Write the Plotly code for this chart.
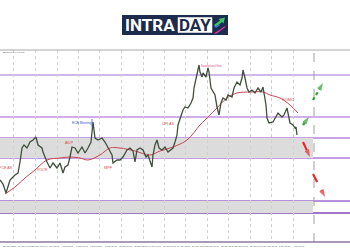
import plotly.graph_objects as go

W, H = 350, 250
TOP, BOT = 50, 242  # plot area pixel rows

# ---------------- data ----------------
bar_x = [0, 3, 6, 10, 15, 18, 20, 22, 24, 27, 30, 33, 36, 38, 42, 43, 47, 50, 53, 57, 60, 63, 65, 68,
         70, 72, 75, 78, 82, 85, 88, 91, 93, 95, 98, 102, 105, 108, 112, 113, 117, 120, 123, 127,
         130, 133, 135, 137, 140, 143, 146, 148, 152, 153, 155, 157, 159, 162, 165, 168, 171, 173,
         175, 177, 178, 180, 183, 185, 188, 191, 193, 194, 196, 197, 199, 200, 202, 203, 206, 208,
         209, 211, 213, 215, 217, 219, 221, 223, 226, 228, 232, 234, 237, 240, 242, 243, 245, 247,
         249, 252, 255, 258, 261, 263, 264, 266, 267, 269, 273, 276, 278, 282, 284, 287, 288, 290,
         293, 295, 296, 297]
close = [1.1640, 1.1632, 1.1614, 1.1640, 1.1650, 1.1654, 1.1676, 1.1704, 1.1710, 1.1704, 1.1716,
         1.1720, 1.1726, 1.1710, 1.1704, 1.1696, 1.1676, 1.1664, 1.1674, 1.1664, 1.1674, 1.1654,
         1.1666, 1.1670, 1.1686, 1.1706, 1.1704, 1.1694, 1.1706, 1.1694, 1.1704, 1.1716, 1.1756,
         1.1724, 1.1720, 1.1724, 1.1716, 1.1706, 1.1690, 1.1674, 1.1680, 1.1680, 1.1686, 1.1700,
         1.1704, 1.1698, 1.1676, 1.1700, 1.1704, 1.1700, 1.1686, 1.1690, 1.1666, 1.1690, 1.1710,
         1.1720, 1.1704, 1.1700, 1.1706, 1.1696, 1.1700, 1.1704, 1.1716, 1.1730, 1.1750, 1.1764,
         1.1780, 1.1786, 1.1784, 1.1794, 1.1804, 1.1824, 1.1844, 1.1856, 1.1870, 1.1856, 1.1846,
         1.1854, 1.1846, 1.1864, 1.1856, 1.1824, 1.1816, 1.1810, 1.1786, 1.1770, 1.1794, 1.1804,
         1.1800, 1.1810, 1.1806, 1.1824, 1.1836, 1.1830, 1.1844, 1.1860, 1.1844, 1.1824, 1.1816,
         1.1820, 1.1814, 1.1824, 1.1816, 1.1826, 1.1814, 1.1790, 1.1764, 1.1754, 1.1756, 1.1766,
         1.1774, 1.1766, 1.1770, 1.1784, 1.1774, 1.1754, 1.1750, 1.1744, 1.1746, 1.1730, 1.1734]

ma_x = [5, 15, 25, 35, 47, 60, 70, 80, 88, 100, 110, 120, 135, 150, 160, 173, 187, 200, 205, 215,
        227, 237, 250, 263, 270, 280, 290, 298]
ma_y = [1.1612, 1.1626, 1.1644, 1.1660, 1.1680, 1.1684, 1.1686, 1.1684, 1.1680, 1.1690, 1.1704,
        1.1704, 1.1698, 1.1690, 1.1698, 1.1706, 1.1720, 1.1750, 1.1760, 1.1780, 1.1804, 1.1814,
        1.1816, 1.1816, 1.1810, 1.1804, 1.1790, 1.1774]

levels = [1.1850, 1.1766, 1.1724, 1.1684, 1.1598, 1.1574]
level_colors = ["#d3b6ec", "#cfaeea", "#c7a3e6", "#c29ce3", "#b792dc", "#9f78c8"]
zones = [(1.1684, 1.1724), (1.1574, 1.1598)]
zone_end = 313

grid_x = [13, 35, 57, 78, 99, 121, 143, 164, 185, 207, 228, 250, 271, 293]
now_x = 314

tick_pos = [1, 15.5, 30, 44.5, 59, 73.5, 88, 102.5, 117, 131.5, 146, 160.5, 175, 189.5, 204,
            218.5, 233, 247.5, 262, 276.5, 291]
tick_labels = ["28 May 2018", "29 May 16:00", "31 May 00:00", "1 Jun 08:00", "4 Jun 16:00",
               "6 Jun 00:00", "7 Jun 08:00", "8 Jun 16:00", "12 Jun 00:00", "13 Jun 08:00",
               "14 Jun 16:00", "18 Jun 00:00", "19 Jun 08:00", "20 Jun 16:00", "22 Jun 00:00",
               "25 Jun 08:00", "26 Jun 16:00", "28 Jun 00:00", "29 Jun 08:00", "2 Jul 16:00",
               "4 Jul 00:00"]

events = ["ECB Meeting", "Switzerland Vote", "CPI AS", "FOMC", "PCE AS", "ADP", "VOLTE", "MPF"]
event_x = [82, 211, 168, 288, 6, 69, 42, 108]
event_y = [1.1754, 1.1868, 1.1752, 1.1802, 1.1664, 1.1716, 1.1660, 1.1664]
event_colors = ["#3a56c8", "#e0508a", "#e04848", "#e04848", "#e04848", "#e04848", "#e04848",
                "#e04848"]
event_sizes = [3.3, 2.8, 3.7, 4.2, 3.6, 3.9, 3.3, 3.8]

arrows = [  # (x0, y0, x1, y1, colour, dash)
    (313, 1.1800, 323, 1.1834, "#2e9e34", "dot"),
    (303, 1.1750, 309, 1.1766, "#2e9e34", "dot"),
    (303, 1.1716, 310, 1.1686, "#e42a2a", "dash"),
    (313, 1.1652, 325, 1.1606, "#e42a2a", "dash"),
]

y_lo, y_hi = 1.1516, 1.1900


def px(xp):
    return xp / W


def py(yp):
    return (BOT - yp) / (BOT - TOP)


fig = go.Figure()

shapes = []
for (a, b) in zones:
    shapes.append(dict(type="rect", x0=0, x1=zone_end, y0=a, y1=b, xref="x", yref="y",
                       fillcolor="#dcdcdc", line_width=0, layer="below"))
for lv, c in zip(levels, level_colors):
    shapes.append(dict(type="line", x0=0, x1=1, xref="paper", y0=lv, y1=lv, yref="y",
                       line=dict(color=c, width=2), layer="below"))
shapes.append(dict(type="line", x0=now_x, x1=now_x, y0=0, y1=1, xref="x", yref="paper",
                   line=dict(color="#a0a0a0", width=1, dash="dash"), layer="below"))
# frame lines
shapes.append(dict(type="line", x0=0, x1=1, y0=1, y1=1, xref="paper", yref="paper",
                   line=dict(color="#a8a8a8", width=1)))
shapes.append(dict(type="line", x0=0, x1=1, y0=0, y1=0, xref="paper", yref="paper",
                   line=dict(color="#8c7aa0", width=1.5)))
# ECB marker bar
shapes.append(dict(type="line", x0=92, x1=92, y0=1.1746, y1=1.1762, xref="x", yref="y",
                   line=dict(color="#3a56c8", width=0.8)))

# logo
shapes.append(dict(type="rect", x0=px(122), x1=px(228), y0=py(35), y1=py(15), xref="paper",
                   yref="paper", fillcolor="#1d2b4c", line_width=0))
shapes.append(dict(type="rect", x0=px(178), x1=px(212), y0=py(32.5), y1=py(17.5), xref="paper",
                   yref="paper", fillcolor="#ffffff", line=dict(color="#ffffff", width=0.5)))


def poly(pts, color):
    d = "M " + " L ".join(f"{px(a):.4f},{py(b):.4f}" for a, b in pts) + " Z"
    return dict(type="path", path=d, xref="paper", yref="paper", fillcolor=color, line_width=0)


shapes.append(poly([(214, 25), (220, 20.5), (218.5, 19), (225, 17.5), (223.5, 23.5),
                    (222, 22), (216, 27)], "#3cc46a"))
shapes.append(poly([(214, 26), (221, 24.5), (216, 28)], "#2f7ae0"))
shapes.append(poly([(214, 33.5), (220, 29), (215.5, 33.5)], "#e2369e"))
shapes.append(poly([(215, 33.5), (224, 26.5), (226, 26.5), (217, 33.5)], "#e2369e"))

fig.add_trace(go.Scatter(x=ma_x, y=ma_y, mode="lines", line=dict(color="#c9474e", width=1),
                         line_shape="spline", hoverinfo="skip"))
fig.add_trace(go.Scatter(x=bar_x, y=close, mode="lines",
                         line=dict(color="#3f4f3c", width=1.3), hoverinfo="skip"))

for (x0, y0, x1, y1, c, dsh) in arrows:
    fig.add_trace(go.Scatter(x=[x0, x1], y=[y0, y1], mode="lines+markers",
                             line=dict(color=c, width=2.2, dash=dsh),
                             marker=dict(symbol="arrow", size=[0, 8], color=c,
                                         angleref="previous", line_width=0),
                             hoverinfo="skip"))

annotations = []
for t, x, y, c, s in zip(events, event_x, event_y, event_colors, event_sizes):
    annotations.append(dict(x=x, y=y, xref="x", yref="y", text=t, showarrow=False,
                            xanchor="center", yanchor="middle",
                            font=dict(size=s, color=c, family="Arial")))
for p, t in zip(tick_pos, tick_labels):
    annotations.append(dict(x=p, y=py(245.5), xref="x", yref="paper", text=t, showarrow=False,
                            xanchor="left", yanchor="middle",
                            font=dict(size=2.3, color="#555555", family="Arial")))
annotations.append(dict(x=px(1), y=py(52.5), xref="paper", yref="paper", text="EURCHF,H4 1.1645",
                        showarrow=False, xanchor="left", yanchor="middle",
                        font=dict(size=2.4, color="#555555", family="Arial")))
annotations.append(dict(x=px(150), y=py(25.5), xref="paper", yref="paper", text="<b>INTRA</b>",
                        showarrow=False, xanchor="center", yanchor="middle",
                        font=dict(size=17, color="#ffffff", family="Roboto")))
annotations.append(dict(x=px(195), y=py(25.5), xref="paper", yref="paper", text="<b>DAY</b>",
                        showarrow=False, xanchor="center", yanchor="middle",
                        font=dict(size=17, color="#1d2b4c", family="Roboto")))

fig.update_layout(
    width=W, height=H, margin=dict(l=0, r=0, t=TOP, b=H - BOT),
    paper_bgcolor="#ffffff", plot_bgcolor="#ffffff", showlegend=False,
    shapes=shapes, annotations=annotations,
    xaxis=dict(range=[0, W], tickvals=grid_x, showticklabels=False, showgrid=True,
               gridcolor="#cfcfcf", griddash="dot", gridwidth=1, zeroline=False, ticks=""),
    yaxis=dict(range=[y_lo, y_hi], showgrid=False, showticklabels=False, zeroline=False),
)

fig.write_html("out.html")
